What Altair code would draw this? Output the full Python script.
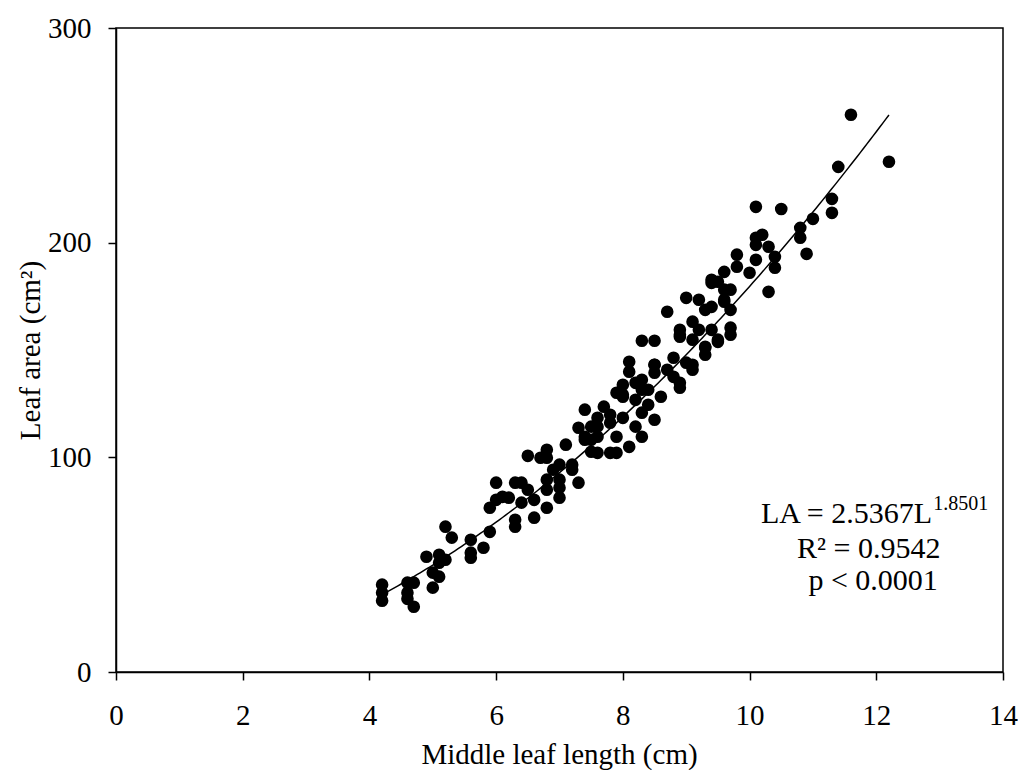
import altair as alt
import pandas as pd

# Middle leaf length (cm)
length_cm = [
    4.2, 4.2, 4.2, 4.6, 4.6, 4.6, 4.7, 4.7, 4.9, 5.0,
    5.0, 5.1, 5.1, 5.1, 5.2, 5.2, 5.3, 5.6, 5.6, 5.6,
    5.8, 5.9, 6.0, 5.9, 6.0, 6.1, 6.3, 6.4, 6.3, 6.3,
    6.4, 6.6, 6.6, 6.8, 6.5, 6.8, 6.7, 6.8, 6.8, 6.8,
    7.0, 7.0, 7.0, 7.1, 7.2, 7.3, 7.3, 7.5, 7.6, 7.6,
    7.8, 7.2, 6.2, 6.5, 8.3, 8.5, 8.9, 8.1, 8.1, 8.5,
    8.5, 8.8, 8.7, 9.0, 9.1, 8.9, 8.0, 7.9, 8.2, 8.4,
    8.6, 8.2, 8.4, 7.4, 7.7, 7.6, 8.0, 8.3, 8.5, 7.5,
    7.8, 7.6, 8.2, 8.3, 7.9, 7.4, 7.5, 7.9, 8.1, 8.0,
    7.8, 8.7, 9.0, 9.2, 9.4, 9.3, 9.4, 9.6, 9.5, 9.8,
    9.8, 10.1, 10.0, 10.4, 10.3, 10.1, 10.3, 10.4, 9.6, 9.7,
    9.7, 9.1, 9.2, 8.9, 8.9, 9.4, 9.5, 9.7, 9.7, 9.3,
    9.3, 9.1, 8.8, 8.5, 8.3, 8.9, 11.6, 12.2, 11.4, 11.3,
    11.3, 11.0, 10.8, 10.8, 10.9, 10.1, 10.5, 10.2, 10.1, 9.6,
    9.6, 9.4, 9.5, 9.1, 9.3, 8.3, 8.0, 7.4, 6.9, 7.0,
]

# Leaf area (cm^2)
area_cm2 = [
    40.7, 36.9, 33.2, 41.6, 36.9, 34.1, 30.4, 41.6, 53.7, 46.3,
    39.3, 54.6, 50.9, 44.4, 67.7, 52.3, 62.6, 61.6, 55.6, 53.2,
    57.9, 65.3, 88.2, 76.5, 80.2, 81.6, 88.2, 88.2, 67.7, 70.9,
    78.9, 71.9, 80.2, 76.5, 100.7, 103.5, 99.8, 99.8, 89.6, 84.9,
    96.6, 89.6, 81.2, 105.9, 94.2, 88.2, 113.8, 108.2, 102.1, 114.3,
    102.1, 96.6, 81.2, 84.9, 154.3, 154.3, 157.1, 144.5, 139.9, 143.1,
    139.4, 146.4, 140.8, 144.1, 140.8, 132.4, 133.8, 130.1, 134.7, 131.5,
    128.2, 126.8, 124.5, 122.2, 123.6, 118.4, 118.4, 120.8, 117.5, 114.3,
    116.1, 109.6, 114.3, 109.6, 109.6, 109.6, 102.6, 102.1, 104.9, 128.2,
    119.8, 167.8, 174.3, 173.4, 170.1, 168.7, 182.7, 186.4, 181.8, 194.4,
    188.8, 192.0, 186.0, 188.3, 177.1, 199.0, 198.1, 193.4, 172.5, 168.7,
    178.1, 163.2, 159.4, 159.4, 156.2, 159.4, 154.8, 160.4, 157.1, 151.0,
    147.8, 154.8, 137.5, 143.1, 136.1, 134.7, 259.6, 237.7, 235.3, 220.4,
    213.9, 211.1, 206.9, 202.3, 194.8, 216.7, 215.7, 203.7, 202.3, 178.1,
    173.4, 181.3, 153.8, 143.1, 151.5, 131.5, 129.2, 108.2, 94.2, 85.8,
]

# Fitted power model LA = a * L^b (as printed on the chart)
fit_a = 2.5367
fit_b = 1.8501
fit_start = 4.2
fit_end = 12.2

x_ticks = [0, 2, 4, 6, 8, 10, 12, 14]
y_ticks = [0, 100, 200, 300]

# Annotation text
eq_main = "LA = 2.5367L"
eq_exp = "1.8501"
r2_text = "R² = 0.9542"
p_text = "p < 0.0001"

FONT = "Liberation Serif"

points = pd.DataFrame({"L": length_cm, "LA": area_cm2})

xscale = alt.Scale(domain=[0, 14], nice=False, zero=False)
yscale = alt.Scale(domain=[0, 300], nice=False, zero=False)

xaxis = alt.Axis(
    values=x_ticks, format="d", title="Middle leaf length (cm)", grid=False,
    domainColor="black", domainWidth=1.5, tickColor="black", tickWidth=1.5,
    tickSize=8, labelFont=FONT, labelFontSize=29, labelColor="black",
    labelBaseline="alphabetic", labelPadding=44, labelFlush=False,
    titleFont=FONT, titleFontSize=29, titleFontWeight="normal", titleColor="black",
    titleBaseline="alphabetic", titleY=91, titleX=443,
)
yaxis = alt.Axis(
    values=y_ticks, format="d", title="Leaf area (cm²)", grid=False,
    domainColor="black", domainWidth=1.5, tickColor="black", tickWidth=1.5,
    tickSize=8, labelFont=FONT, labelFontSize=29, labelColor="black",
    labelPadding=17, labelFlush=False,
    titleFont=FONT, titleFontSize=29, titleFontWeight="normal", titleColor="black",
    titleX=-86, titleY=322, titleAngle=-90, titleAlign="center", titleBaseline="middle",
)

scatter = alt.Chart(points).mark_circle(size=160, color="black", opacity=1).encode(
    x=alt.X("L:Q", scale=xscale, axis=xaxis),
    y=alt.Y("LA:Q", scale=yscale, axis=yaxis),
)

fit = (
    alt.Chart(alt.sequence(fit_start, fit_end + 0.001, 0.05, as_="L"))
    .transform_calculate(LA=f"{fit_a} * pow(datum.L, {fit_b})")
    .mark_line(color="black", strokeWidth=1.5)
    .encode(x=alt.X("L:Q", scale=xscale), y=alt.Y("LA:Q", scale=yscale))
)

ann_main = pd.DataFrame({"x": [12.88], "y": [69.4], "t": [eq_main]})
ann_exp = pd.DataFrame({"x": [12.9], "y": [75.6], "t": [eq_exp]})
ann_center = pd.DataFrame({"x": [11.88, 11.95], "y": [53.2, 38.3], "t": [r2_text, p_text]})

t_main = alt.Chart(ann_main).mark_text(
    font=FONT, fontSize=30, align="right", baseline="alphabetic", color="black"
).encode(x=alt.X("x:Q", scale=xscale), y=alt.Y("y:Q", scale=yscale), text="t:N")
t_exp = alt.Chart(ann_exp).mark_text(
    font=FONT, fontSize=20, align="left", baseline="alphabetic", color="black"
).encode(x=alt.X("x:Q", scale=xscale), y=alt.Y("y:Q", scale=yscale), text="t:N")
t_center = alt.Chart(ann_center).mark_text(
    font=FONT, fontSize=30, align="center", baseline="alphabetic", color="black"
).encode(x=alt.X("x:Q", scale=xscale), y=alt.Y("y:Q", scale=yscale), text="t:N")

chart = (
    alt.layer(fit, scatter, t_main, t_exp, t_center)
    .properties(
        width=887, height=644,
        autosize=alt.AutoSizeParams(type="none"),
        padding={"left": 108, "top": 20, "right": 15, "bottom": 98},
        background="white",
    )
    .configure_view(stroke="black", strokeWidth=1.5)
)

chart.save("out.html", embed_options={"renderer": "svg", "actions": False})
